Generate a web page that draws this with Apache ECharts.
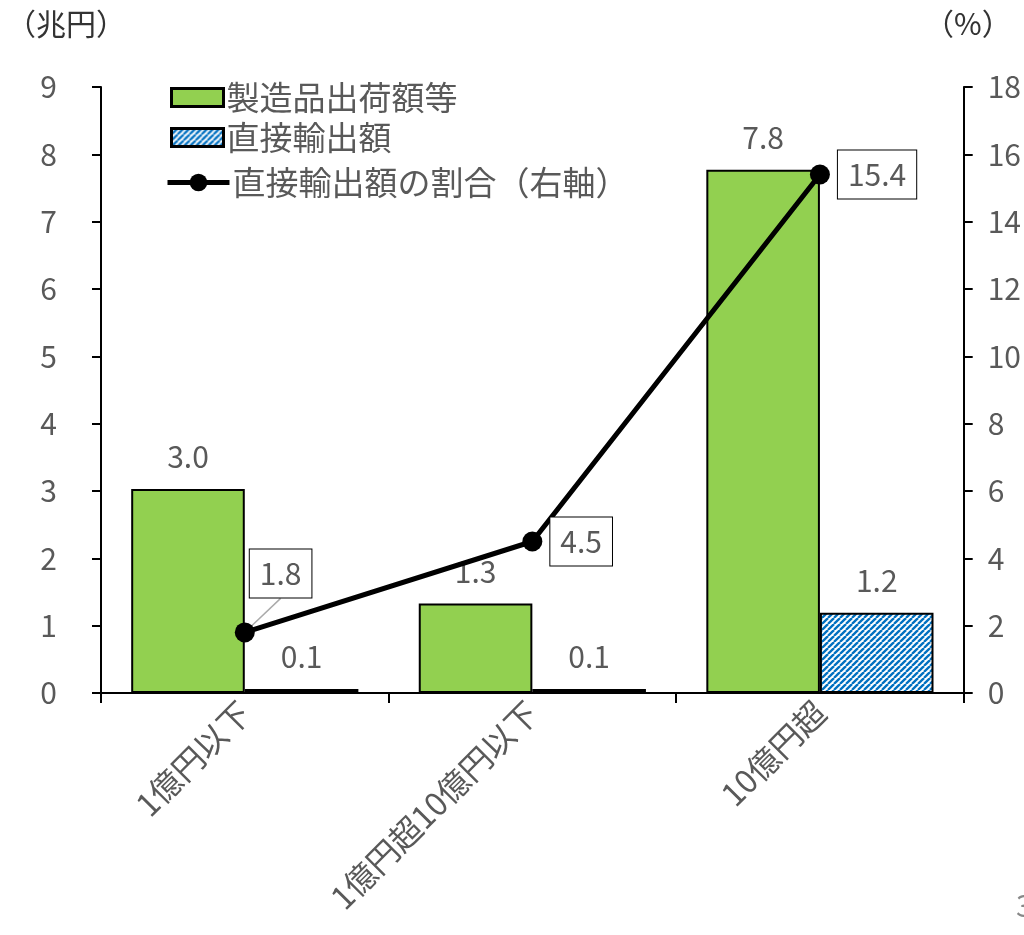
<!DOCTYPE html>
<html><head><meta charset="utf-8">
<script src="https://cdn.jsdelivr.net/npm/echarts@6/dist/echarts.min.js"></script>
<style>html,body{margin:0;padding:0;background:#fff}#c{width:1024px;height:935px}</style>
</head><body><div id="c"></div>
<script>
const categories = ['1億円以下', '1億円超10億円以下', '10億円超'];
const shipments = [3.03, 1.33, 7.77];
const exportsDirect = [0.06, 0.06, 1.19];
const exportRatio = [1.8, 4.5, 15.4];
const leftTicks = {min: 0, max: 9, interval: 1};
const rightTicks = {min: 0, max: 18, interval: 2};

const FONT = '"Noto Sans CJK JP", "Noto Sans", sans-serif';
const GRAY = '#595959';

function makePattern() {
  const s = 6;
  const cv = document.createElement('canvas');
  cv.width = s; cv.height = s;
  const ctx = cv.getContext('2d');
  ctx.fillStyle = '#ffffff';
  ctx.fillRect(0, 0, s, s);
  ctx.strokeStyle = '#0070C0';
  ctx.lineWidth = 2.3;
  for (let k = -1; k <= 1; k++) {
    ctx.beginPath();
    ctx.moveTo(k * s, s);
    ctx.lineTo(k * s + s, 0);
    ctx.stroke();
  }
  return cv;
}
const pattern = {image: makePattern(), repeat: 'repeat'};

const chart = echarts.init(document.getElementById('c'));
const legendText = {fontSize: 33, color: GRAY, fontFamily: FONT, padding: [0, 0, 0, -2]};
chart.setOption({
  animation: false,
  textStyle: {fontFamily: FONT},
  grid: {left: 101, right: 59, top: 87, bottom: 242},
  legend: [
    {data: [{name: '製造品出荷額等', icon: 'rect'}], left: 165, top: 76, itemWidth: 52, itemHeight: 18,
     itemStyle: {borderWidth: 3, borderColor: '#000'}, textStyle: legendText},
    {data: [{name: '直接輸出額', icon: 'rect'}], left: 165, top: 116, itemWidth: 52, itemHeight: 18,
     itemStyle: {borderWidth: 3, borderColor: '#000'}, textStyle: legendText},
    {data: ['直接輸出額の割合(右軸)'], left: 160, top: 161, itemWidth: 62, itemHeight: 22, textStyle: legendText,
     lineStyle: {width: 5, color: '#000'},
     formatter: function(n){ return n.replace('(', '（').replace(')', '）'); }}
  ],
  graphic: [
    {type: 'text', left: 6, top: 9, style: {text: '（兆円）', fontSize: 30, fill: '#333', fontFamily: FONT}},
    {type: 'text', left: 924, top: 9, style: {text: '（%）', fontSize: 30, fill: '#333', fontFamily: FONT}},
    {type: 'text', left: 1016, top: 891, style: {text: '3', fontSize: 30, fill: '#888', fontFamily: FONT}}
  ],
  xAxis: {
    type: 'category', data: categories,
    axisLine: {lineStyle: {color: '#000', width: 2}},
    axisTick: {show: true, length: 10, lineStyle: {color: '#000', width: 2}},
    axisLabel: {rotate: 45, fontSize: 32, color: GRAY, margin: 14, interval: 0, fontFamily: FONT}
  },
  yAxis: [
    {type: 'value', min: leftTicks.min, max: leftTicks.max, interval: leftTicks.interval,
     axisLine: {show: true, lineStyle: {color: '#000', width: 2}},
     axisTick: {show: true, length: 9, lineStyle: {color: '#000', width: 2}},
     splitLine: {show: false},
     axisLabel: {fontSize: 30, color: GRAY, margin: 44, fontFamily: FONT}},
    {type: 'value', min: rightTicks.min, max: rightTicks.max, interval: rightTicks.interval,
     axisLine: {show: true, lineStyle: {color: '#000', width: 2}},
     axisTick: {show: true, length: 9, lineStyle: {color: '#000', width: 2}},
     splitLine: {show: false},
     axisLabel: {fontSize: 30, color: GRAY, margin: 24, fontFamily: FONT}}
  ],
  series: [
    {name: '製造品出荷額等', type: 'bar', data: shipments, barGap: '0%', barCategoryGap: '21%',
     itemStyle: {color: '#92D050', borderColor: '#000', borderWidth: 2},
     label: {show: true, position: 'top', distance: 17, fontSize: 30, color: GRAY, fontFamily: FONT,
             formatter: p => p.value.toFixed(1)}},
    {name: '直接輸出額', type: 'bar', data: exportsDirect, barGap: '0%',
     itemStyle: {color: pattern, borderColor: '#000', borderWidth: 2},
     label: {show: true, position: 'top', distance: 17, fontSize: 30, color: GRAY, fontFamily: FONT,
             formatter: p => p.value.toFixed(1)}},
    {name: '直接輸出額の割合(右軸)', type: 'line', yAxisIndex: 1, z: 5,
     data: exportRatio.map((v, i) => i === 0 ? {value: v, labelLine: {show: true, lineStyle: {color: '#aaa', width: 1.5}}} : v),
     symbol: 'circle', symbolSize: 20,
     lineStyle: {color: '#000', width: 5}, itemStyle: {color: '#000'},
     label: {show: true, position: 'right', distance: 8, fontSize: 30, color: GRAY, fontFamily: FONT,
             backgroundColor: '#fff', borderColor: '#000', borderWidth: 1, padding: [9, 10],
             formatter: p => p.value.toFixed(1)},
     labelLayout: function(p) { return p.dataIndex === 0 ? {dx: -13, dy: -59} : {}; }}
  ]
});
</script></body></html>
